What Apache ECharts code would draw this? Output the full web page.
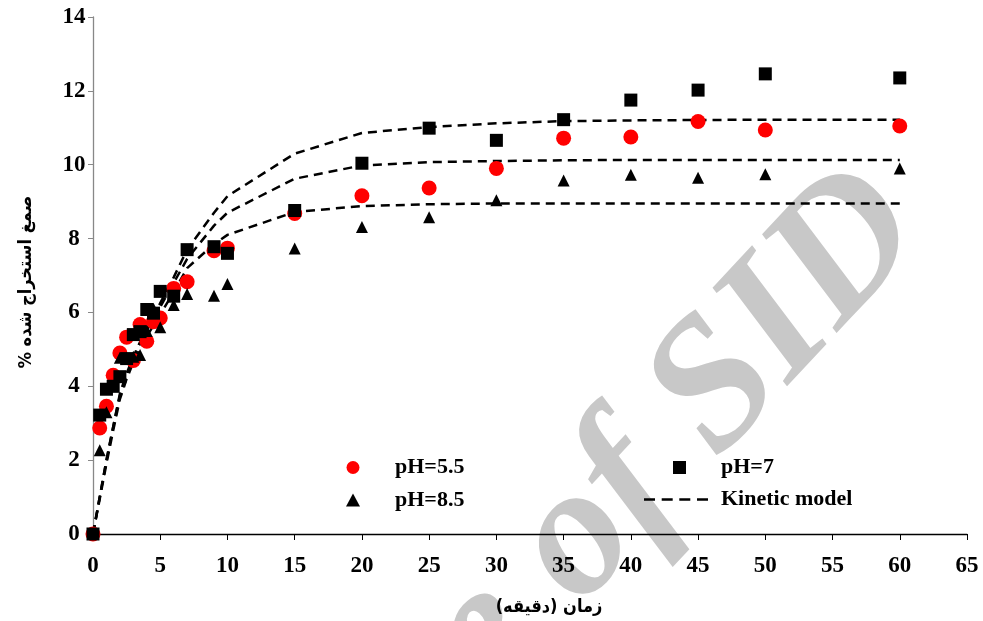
<!DOCTYPE html>
<html>
<head>
<meta charset="utf-8">
<script src="https://cdn.jsdelivr.net/npm/echarts@6/dist/echarts.min.js"></script>
<style>
html,body{margin:0;padding:0;background:#fff;}
#chart{width:983px;height:621px;}
</style>
</head>
<body>
<div id="chart"></div>
<script>
// Time points (minutes)
const times = [0,0.5,1,1.5,2,2.5,3,3.5,4,4.5,5,6,7,9,10,15,20,25,30,35,40,45,50,60];
// Experimental extraction (%)
const ph55 = [0,2.87,3.46,4.30,4.90,5.33,4.70,5.67,5.22,5.75,5.85,6.65,6.83,7.67,7.74,8.68,9.16,9.37,9.90,10.72,10.75,11.17,10.94,11.05];
const ph7  = [0,3.22,3.92,4.00,4.26,4.75,5.40,5.48,6.08,5.98,6.57,6.44,7.70,7.78,7.60,8.76,10.04,10.99,10.66,11.22,11.75,12.02,12.46,12.35];
const ph85 = [0,2.27,3.30,4.00,4.77,4.77,4.80,4.85,5.50,6.10,5.60,6.20,6.50,6.45,6.77,7.73,8.31,8.58,9.04,9.57,9.73,9.65,9.74,9.90];
// Kinetic model curves
const modelTop = [0,1.0,2.0,2.9,3.8,4.35,4.8,5.2,5.55,5.9,6.25,6.95,7.7,8.7,9.15,10.3,10.86,11.02,11.12,11.18,11.2,11.21,11.22,11.22];
const modelMid = [0,1.0,2.0,2.9,3.75,4.3,4.75,5.15,5.5,5.85,6.15,6.8,7.45,8.35,8.7,9.62,9.98,10.07,10.1,10.12,10.13,10.13,10.13,10.13];
const modelLow = [0,0.95,1.9,2.8,3.65,4.2,4.65,5.0,5.35,5.65,5.95,6.55,7.2,7.85,8.1,8.72,8.88,8.93,8.95,8.95,8.95,8.95,8.95,8.95];
// Axis ticks
const xTicks = {min:0, max:65, interval:5};
const yTicks = {min:0, max:14, interval:2};
const xName = 'زمان (دقیقه)\u200F';
const yName = 'صمغ استخراج شده %\u200F';
const seriesNames = ['pH=5.5','pH=7','pH=8.5','Kinetic model'];
const watermark = 'Archive of SID';

const pair = (xs, ys) => xs.map((x,i)=>[x, ys[i]]);
const serif = 'Liberation Serif, Times New Roman, serif';
const arabic = '"DejaVu Sans Condensed", "DejaVu Sans", sans-serif';
const legendText = (pad) => ({fontFamily:serif, fontWeight:'bold', fontSize:22, lineHeight:22, color:'#000', padding:[0,0,0,pad]});

const chart = echarts.init(document.getElementById('chart'), null, {renderer:'canvas'});
const lineBase = {type:'line', name:seriesNames[3], symbol:'none', smooth:false, z:2,
  lineStyle:{color:'#000', width:2.5, type:[9,6]}, itemStyle:{color:'#000'}, silent:true};

chart.setOption({
  backgroundColor:'#fff',
  animation:false,
  graphic:[{
    type:'text', z:-10, x:894, y:201, rotation:47*Math.PI/180, silent:true,
    style:{text:watermark, fill:'#c8c8c8', font:'italic bold 186px Liberation Serif', align:'right', verticalAlign:'middle'}
  }],
  grid:{left:93, right:16, top:17, bottom:81, containLabel:false},
  legend:[
    {data:[{name:'pH=5.5', icon:'circle'},{name:'pH=8.5', icon:'triangle'}], orient:'vertical', left:346, top:456.5,
     itemWidth:14, itemHeight:13, itemGap:10.5, padding:0, textStyle:legendText(30)},
    {data:[{name:'pH=7', icon:'rect'}], orient:'vertical', left:673, top:456.5,
     itemWidth:13, itemHeight:13, padding:0, textStyle:legendText(30)},
    {data:[{name:'Kinetic model', icon:'path://M0 0H11V2.5H0Z M17.7 0H28.7V2.5H17.7Z M35.3 0H46.3V2.5H35.3Z M53 0H64V2.5H53Z'}],
     orient:'vertical', left:644, top:488.5,
     itemWidth:64, itemHeight:2.5, padding:0, textStyle:legendText(8)}
  ],
  xAxis:{type:'value', min:xTicks.min, max:xTicks.max, interval:xTicks.interval,
    name:xName, nameLocation:'middle', nameGap:64,
    nameTextStyle:{fontFamily:arabic, fontWeight:'bold', fontSize:18, color:'#000', padding:[0,0,0,38]},
    axisLine:{show:true, onZero:false, lineStyle:{color:'#000', width:1.3}},
    axisTick:{show:true, inside:false, length:6, lineStyle:{color:'#000', width:1}},
    axisLabel:{margin:21, fontFamily:serif, fontWeight:'bold', fontSize:23, color:'#000'},
    splitLine:{show:false}},
  yAxis:{type:'value', min:yTicks.min, max:yTicks.max, interval:yTicks.interval,
    name:yName, nameLocation:'middle', nameGap:58, nameRotate:90,
    nameTextStyle:{fontFamily:arabic, fontWeight:'bold', fontSize:18, color:'#000', padding:[0,13,0,0]},
    axisLine:{show:true, onZero:false, lineStyle:{color:'#888', width:1.3}},
    axisTick:{show:true, inside:false, length:5, lineStyle:{color:'#888', width:1}},
    axisLabel:{margin:19, align:'center', fontFamily:serif, fontWeight:'bold', fontSize:23, color:'#000'},
    splitLine:{show:false}},
  series:[
    Object.assign({}, lineBase, {data:pair(times, modelTop)}),
    Object.assign({}, lineBase, {data:pair(times, modelMid)}),
    Object.assign({}, lineBase, {data:pair(times, modelLow)}),
    {type:'scatter', name:seriesNames[0], symbol:'circle', symbolSize:15, z:3,
     itemStyle:{color:'#ff0000', opacity:1}, data:pair(times, ph55)},
    {type:'scatter', name:seriesNames[2], symbol:'triangle', symbolSize:12, z:4,
     itemStyle:{color:'#000', opacity:1}, data:pair(times, ph85)},
    {type:'scatter', name:seriesNames[1], symbol:'rect', symbolSize:13, z:5,
     itemStyle:{color:'#000', opacity:1}, data:pair(times, ph7)}
  ]
});
</script>
</body>
</html>
